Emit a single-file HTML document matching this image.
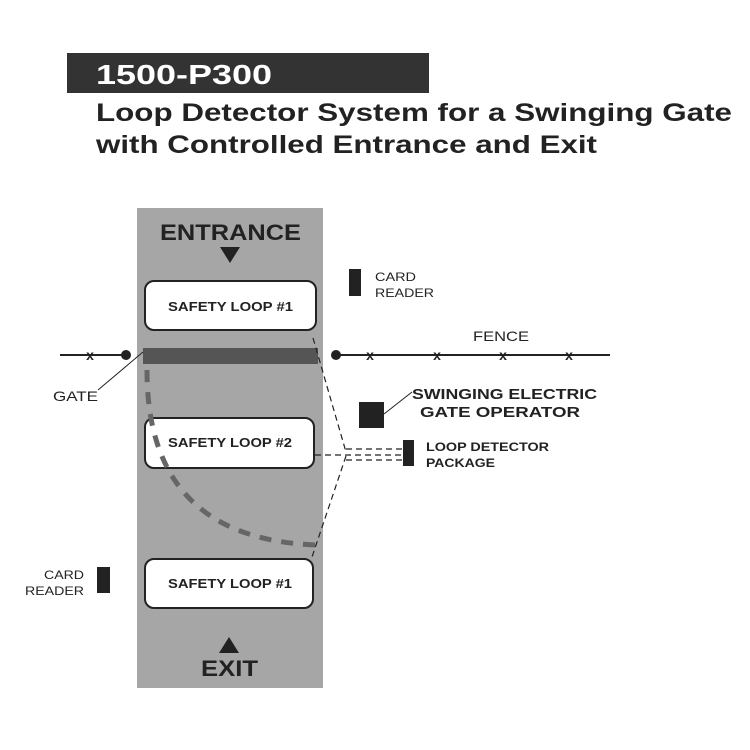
<!DOCTYPE html>
<html><head><style>
body{margin:0;background:#fff;}
svg{display:block;}
text{font-family:"Liberation Sans",Arial,sans-serif;font-weight:bold;}
.n{font-weight:normal;}
</style></head><body>
<svg width="750" height="750" viewBox="0 0 750 750" xmlns="http://www.w3.org/2000/svg">
<rect x="67" y="53" width="362" height="40" fill="#333"/>
<text x="96" y="84" fill="#fff" font-size="28" textLength="176" lengthAdjust="spacingAndGlyphs">1500-P300</text>
<text x="96" y="121" fill="#222" font-size="25" textLength="636" lengthAdjust="spacingAndGlyphs">Loop Detector System for a Swinging Gate</text>
<text x="96" y="153" fill="#222" font-size="25" textLength="501" lengthAdjust="spacingAndGlyphs">with Controlled Entrance and Exit</text>

<rect x="137" y="208" width="186" height="480" fill="#a6a6a6"/>
<text x="160" y="240" font-size="22" fill="#222" textLength="141" lengthAdjust="spacingAndGlyphs">ENTRANCE</text>
<polygon points="220,247 240,247 230,263" fill="#222"/>
<polygon points="219,653 239,653 229,637" fill="#222"/>
<text x="201" y="676" font-size="22" fill="#222" textLength="57" lengthAdjust="spacingAndGlyphs">EXIT</text>

<rect x="145" y="281" width="171" height="49" rx="9" fill="#fff" stroke="#222" stroke-width="2"/>
<text x="168" y="311" font-size="13" fill="#222" textLength="125" lengthAdjust="spacingAndGlyphs">SAFETY LOOP #1</text>
<rect x="145" y="418" width="169" height="50" rx="9" fill="#fff" stroke="#222" stroke-width="2"/>
<text x="168" y="447" font-size="13" fill="#222" textLength="124" lengthAdjust="spacingAndGlyphs">SAFETY LOOP #2</text>
<rect x="145" y="559" width="168" height="49" rx="9" fill="#fff" stroke="#222" stroke-width="2"/>
<text x="168" y="588" font-size="13" fill="#222" textLength="124" lengthAdjust="spacingAndGlyphs">SAFETY LOOP #1</text>

<rect x="143" y="348" width="175" height="16" fill="#555"/>
<path d="M147,370 C147,480 200,540 315,545" fill="none" stroke="#666" stroke-width="5" stroke-dasharray="12,10"/>

<line x1="60" y1="355" x2="125" y2="355" stroke="#222" stroke-width="2"/>
<circle cx="126" cy="355" r="5" fill="#222"/>
<line x1="335" y1="355" x2="610" y2="355" stroke="#222" stroke-width="2"/>
<circle cx="336" cy="355" r="5" fill="#222"/>
<g font-size="14" fill="#222" text-anchor="middle">
<text x="90" y="360">x</text><text x="370" y="360">x</text><text x="437" y="360">x</text><text x="503" y="360">x</text><text x="569" y="360">x</text>
</g>
<text x="473" y="341" font-size="14" class="n" fill="#222" textLength="56" lengthAdjust="spacingAndGlyphs">FENCE</text>

<line x1="98" y1="390" x2="143" y2="352" stroke="#222" stroke-width="1"/>
<text x="53" y="401" font-size="14" class="n" fill="#222" textLength="45" lengthAdjust="spacingAndGlyphs">GATE</text>

<rect x="349" y="269" width="12" height="27" fill="#222"/>
<text x="375" y="281" font-size="12" class="n" fill="#222" textLength="41" lengthAdjust="spacingAndGlyphs">CARD</text>
<text x="375" y="297" font-size="12" class="n" fill="#222" textLength="59" lengthAdjust="spacingAndGlyphs">READER</text>
<rect x="97" y="567" width="13" height="26" fill="#222"/>
<text x="44" y="579" font-size="12" class="n" fill="#222" textLength="40" lengthAdjust="spacingAndGlyphs">CARD</text>
<text x="25" y="595" font-size="12" class="n" fill="#222" textLength="59" lengthAdjust="spacingAndGlyphs">READER</text>

<rect x="359" y="402" width="25" height="26" fill="#222"/>
<line x1="384" y1="414" x2="412" y2="392" stroke="#222" stroke-width="1"/>
<text x="412" y="399" font-size="15" fill="#222" textLength="185" lengthAdjust="spacingAndGlyphs">SWINGING ELECTRIC</text>
<text x="420" y="417" font-size="15" fill="#222" textLength="160" lengthAdjust="spacingAndGlyphs">GATE OPERATOR</text>

<rect x="403" y="440" width="11" height="26" fill="#222"/>
<text x="426" y="451" font-size="12" fill="#222" textLength="123" lengthAdjust="spacingAndGlyphs">LOOP DETECTOR</text>
<text x="426" y="467" font-size="12" fill="#222" textLength="69" lengthAdjust="spacingAndGlyphs">PACKAGE</text>

<g stroke="#222" stroke-width="1.2" fill="none" stroke-dasharray="6,4">
<line x1="313" y1="338" x2="346" y2="452"/>
<line x1="346" y1="456" x2="312" y2="557"/>
<line x1="315" y1="455" x2="403" y2="455"/>
<line x1="346" y1="449" x2="403" y2="449"/>
<line x1="346" y1="460" x2="403" y2="460"/>
</g>
</svg>
</body></html>
